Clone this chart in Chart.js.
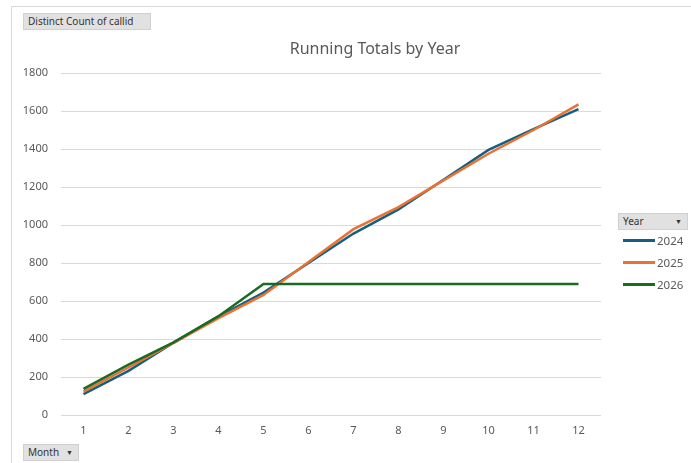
<!DOCTYPE html>
<html>
<head>
<meta charset="utf-8">
<script src="https://cdn.jsdelivr.net/npm/chart.js@4.4.1/dist/chart.umd.min.js"></script>
<style>
    body { margin: 0; background: #fff; font-family: "Noto Sans", sans-serif; }
    #wrap { position: relative; width: 691px; height: 463px; overflow: hidden; }
    #moldura { position: absolute; left: 11px; top: 6px; width: 700px; height: 470px;
        border-left: 1px solid #d9d9d9; border-top: 1px solid #d9d9d9; }
    canvas { position: absolute; left: 0; top: 0; }
    .botao { position: absolute; background: #e1e1e1; border: 1px solid #d0d0d0; color: #333;
        font-size: 10px; line-height: 15px; padding: 0 4px; box-sizing: border-box; height: 17px; }
    .seta { position: absolute; right: 5px; top: 0; font-size: 7px; }
    #titulo { position: absolute; left: 0; width: 750px; top: 37px; text-align: center;
        font-size: 16px; color: #595959; }
    #legenda { position: absolute; left: 623px; top: 229px; }
    .item { height: 22px; display: flex; align-items: center; font-size: 11.5px; color: #595959; }
    .item span.linha { display: inline-block; width: 32px; height: 3px; margin-right: 2px; }
</style>
</head>
<body>
<div id="wrap">
    <div id="moldura"></div>
    <canvas id="graficoTotais" width="691" height="463"></canvas>
    <div id="titulo">Running Totals by Year</div>
    <div class="botao" style="left:23px; top:13px; width:128px;">Distinct Count of callid</div>
    <div class="botao" style="left:618px; top:213px; width:70px;">Year<span class="seta">&#9660;</span></div>
    <div class="botao" style="left:23px; top:444px; width:56px;">Month<span class="seta">&#9660;</span></div>
    <div id="legenda"></div>
</div>
<script>
// Dados
const meses = ['1', '2', '3', '4', '5', '6', '7', '8', '9', '10', '11', '12'];
const anos = ['2024', '2025', '2026'];
const total2024 = [110, 232, 380, 518, 644, 800, 955, 1082, 1238, 1395, 1505, 1610];
const total2025 = [123, 250, 380, 510, 632, 805, 978, 1094, 1235, 1375, 1500, 1635];
const total2026 = [137, 265, 382, 520, 690, 690, 690, 690, 690, 690, 690, 690];
const cores = ['#156082', '#E97132', '#196B24'];
const ticksY = [0, 200, 400, 600, 800, 1000, 1200, 1400, 1600, 1800];

const series = [total2024, total2025, total2026];

// Legenda manual
const legenda = document.getElementById('legenda');
legenda.innerHTML = anos.map((ano, i) => `
    <div class="item"><span class="linha" style="background:${cores[i]}"></span>${ano}</div>
`).join('');

const ctx = document.getElementById('graficoTotais');
const grafico = new Chart(ctx, {
    type: 'line',
    data: {
        labels: meses,
        datasets: anos.map((ano, i) => ({
            label: ano,
            data: series[i],
            borderColor: cores[i],
            backgroundColor: cores[i],
            borderWidth: 2.5,
            pointRadius: 0,
            tension: 0,
            order: anos.length - i   // 2026 por cima, como no Excel
        }))
    },
    options: {
        responsive: false,
        animation: false,
        layout: { padding: { top: 73, right: 90, left: 0, bottom: 0 } },
        plugins: {
            legend: { display: false },
            title: { display: false },
            tooltip: { enabled: false }
        },
        scales: {
            x: {
                offset: true,
                grid: { display: false, drawTicks: false },
                border: { display: false },
                ticks: { color: '#595959', font: { family: 'Noto Sans', size: 11 }, padding: 9 },
                afterFit: (escala) => { escala.height = 48; }
            },
            y: {
                min: 0,
                max: 1800,
                afterBuildTicks: (escala) => { escala.ticks = ticksY.map(v => ({ value: v })); },
                grid: { color: '#d9d9d9', drawTicks: false },
                border: { display: false },
                ticks: {
                    color: '#595959',
                    font: { family: 'Noto Sans', size: 11 },
                    padding: 13,
                    callback: (valor) => String(valor)
                },
                afterFit: (escala) => { escala.width = 61; }
            }
        }
    }
});
</script>
</body>
</html>
